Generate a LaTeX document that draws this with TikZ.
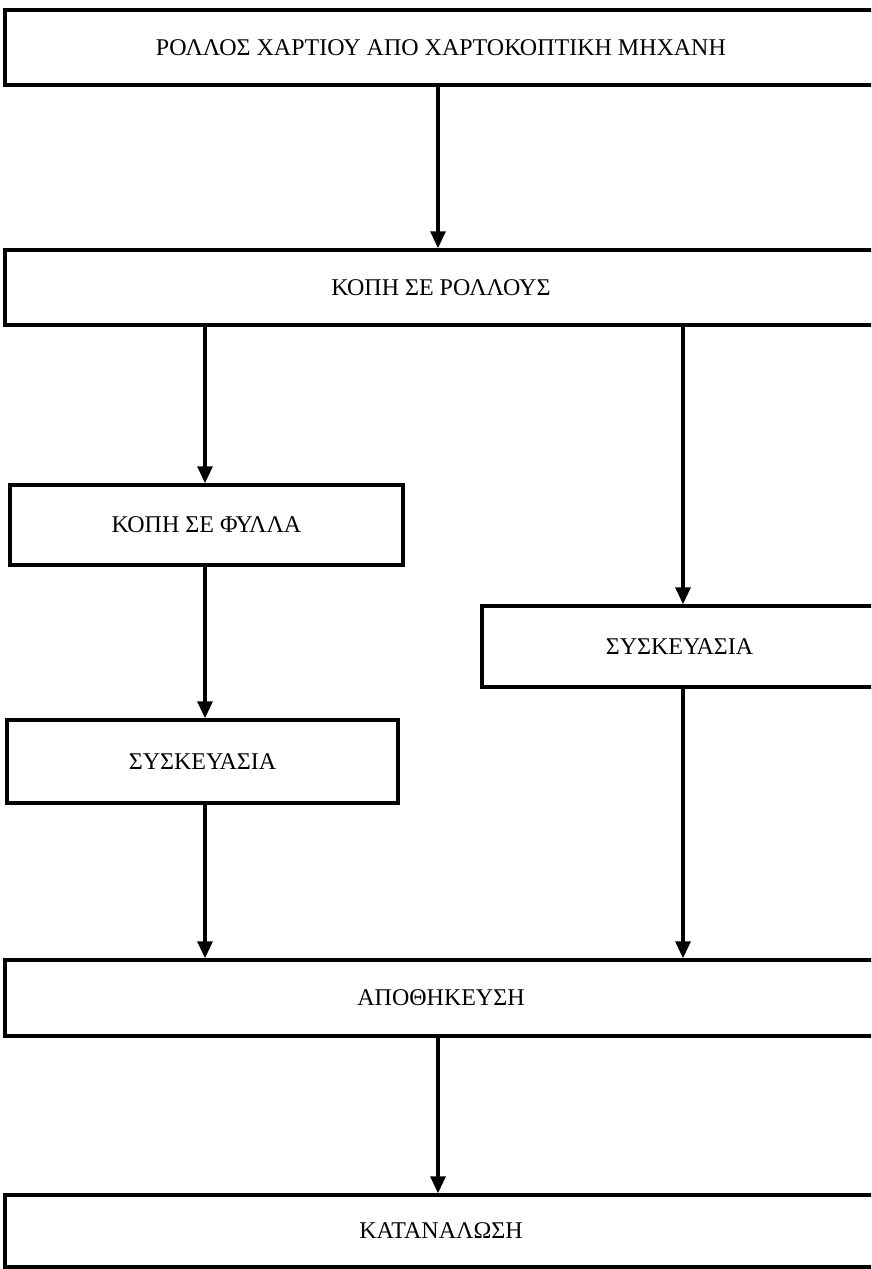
\documentclass[tikz,border=0pt]{standalone}
\usepackage{fontspec}
\setmainfont{Liberation Serif}
\usetikzlibrary{arrows.meta}
\begin{document}
\begin{tikzpicture}[x=1pt,y=-1pt,
  box/.style={draw,line width=3.5pt,rectangle,inner sep=0pt,
    font=\fontsize{24}{27}\selectfont},
  arr/.style={line width=3.2pt,-{Triangle[width=15pt,length=17pt]}}]
\useasboundingbox (0,0) rectangle (871,1269);
\clip (0,0) rectangle (871,1269);
\fill[white] (0,0) rectangle (871,1269);
\coordinate (cx) at (438,0);
\coordinate (lx) at (205,0);
\coordinate (rx) at (683,0);
\node[box,minimum width=872pt,minimum height=75pt] (b1) at (441,47.5) {ΡΟΛΛΟΣ ΧΑΡΤΙΟΥ ΑΠΟ ΧΑΡΤΟΚΟΠΤΙΚΗ ΜΗΧΑΝΗ};
\node[box,minimum width=872pt,minimum height=75pt] (b2) at (441,287.5) {ΚΟΠΗ ΣΕ ΡΟΛΛΟΥΣ};
\node[box,minimum width=393pt,minimum height=80pt] (b3) at (206.5,525) {ΚΟΠΗ ΣΕ ΦΥΛΛΑ};
\node[box,minimum width=395pt,minimum height=81pt] (b4) at (679.5,646.5) {ΣΥΣΚΕΥΑΣΙΑ};
\node[box,minimum width=391pt,minimum height=83pt] (b5) at (202.5,761.5) {ΣΥΣΚΕΥΑΣΙΑ};
\node[box,minimum width=872pt,minimum height=76pt] (b6) at (441,998) {ΑΠΟΘΗΚΕΥΣΗ};
\node[box,minimum width=872pt,minimum height=72pt] (b7) at (441,1231) {ΚΑΤΑΝΑΛΩΣΗ};
\draw[arr] (b1.south -| cx) -- (b2.north -| cx);
\draw[arr] (b2.south -| lx) -- (b3.north -| lx);
\draw[arr] (b2.south -| rx) -- (b4.north -| rx);
\draw[arr] (b3.south -| lx) -- (b5.north -| lx);
\draw[arr] (b5.south -| lx) -- (b6.north -| lx);
\draw[arr] (b4.south -| rx) -- (b6.north -| rx);
\draw[arr] (b6.south -| cx) -- (b7.north -| cx);
\end{tikzpicture}
\end{document}
